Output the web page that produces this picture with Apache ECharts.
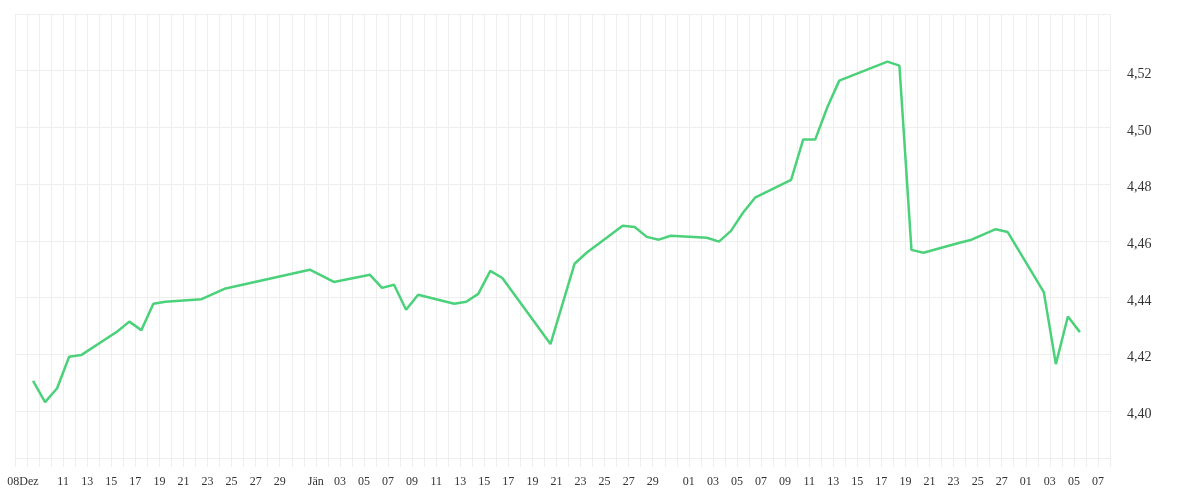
<!DOCTYPE html>
<html>
<head>
<meta charset="utf-8">
<script src="https://cdn.jsdelivr.net/npm/echarts@6/dist/echarts.min.js"></script>
<style>
  html, body { margin: 0; padding: 0; background: #ffffff; }
  #chart { width: 1200px; height: 500px; }
</style>
</head>
<body>
<div id="chart"></div>
<script>
// ---- data ----
var axisStart = '2024-12-07';
var axisDays = 91;
var dates = [
  '2024-12-08','2024-12-09','2024-12-10','2024-12-11','2024-12-12',
  '2024-12-15','2024-12-16','2024-12-17','2024-12-18','2024-12-19',
  '2024-12-22','2024-12-24','2024-12-31',
  '2025-01-02','2025-01-05','2025-01-06','2025-01-07','2025-01-08','2025-01-09',
  '2025-01-12','2025-01-13','2025-01-14','2025-01-15','2025-01-16',
  '2025-01-20','2025-01-22','2025-01-23',
  '2025-01-26','2025-01-27','2025-01-28','2025-01-29','2025-01-30',
  '2025-02-02','2025-02-03','2025-02-04','2025-02-05','2025-02-06',
  '2025-02-09','2025-02-10','2025-02-11','2025-02-12','2025-02-13',
  '2025-02-17','2025-02-18','2025-02-19','2025-02-20',
  '2025-02-23','2025-02-24','2025-02-25','2025-02-26','2025-02-27',
  '2025-03-02','2025-03-03','2025-03-04','2025-03-05'
];
var values = [
  4.4106, 4.4031, 4.4080, 4.4191, 4.4197,
  4.4280, 4.4315, 4.4285, 4.4378, 4.4385,
  4.4394, 4.4432, 4.4498,
  4.4455, 4.4480, 4.4434, 4.4445, 4.4357, 4.4410,
  4.4378, 4.4385, 4.4413, 4.4494, 4.4469,
  4.4236, 4.4519, 4.4558,
  4.4653, 4.4649, 4.4614, 4.4604, 4.4618,
  4.4611, 4.4597, 4.4635, 4.4699, 4.4752,
  4.4815, 4.4957, 4.4957, 4.5070, 4.5165,
  4.5232, 4.5218, 4.4568, 4.4558,
  4.4593, 4.4604, 4.4623, 4.4641, 4.4631,
  4.4419, 4.4165, 4.4333, 4.4278
];
var firstDayLabel = '08';
var firstMonthLabel = 'Dez';
var monthNames = { '2025-01': 'Jän' };
var yMin = 4.3834, yMax = 4.54;

// ---- helpers ----
var DAY = 86400000;
var t0 = Date.parse(axisStart + 'T00:00:00Z');
function dayOffset(d) { return (Date.parse(d + 'T12:00:00Z') - t0) / DAY; }
var seriesData = dates.map(function (d, i) { return [dayOffset(d), values[i]]; });

function pad2(n) { return (n < 10 ? '0' : '') + n; }
function xLabel(v) {
  var k = Math.round(v);
  if (Math.abs(v - k) > 1e-6) return '';
  if (k === 1) return '{lead|' + firstDayLabel + firstMonthLabel + '}';
  if (k < 4) return '';
  var dt = new Date(t0 + k * DAY);
  var day = dt.getUTCDate();
  var key = dt.getUTCFullYear() + '-' + pad2(dt.getUTCMonth() + 1);
  if (day === 1 && monthNames[key]) return monthNames[key];
  if (day % 2 === 1 && day !== 31) return pad2(day);
  return '';
}

var chart = echarts.init(document.getElementById('chart'), null, { renderer: 'canvas' });
chart.setOption({
  animation: false,
  backgroundColor: '#ffffff',
  grid: { left: 15, right: 90, top: 14, bottom: 42, containLabel: false },
  xAxis: {
    type: 'value',
    min: 0,
    max: axisDays,
    interval: 1,
    axisLine: { show: true, lineStyle: { color: '#eeeeee', width: 1 } },
    axisTick: { show: true, length: 9, lineStyle: { color: '#eeeeee' } },
    splitLine: { show: true, lineStyle: { color: '#eeeeee', width: 1 } },
    axisLabel: {
      show: true,
      showMinLabel: true,
      showMaxLabel: true,
      hideOverlap: false,
      margin: 18,
      color: '#333333',
      fontFamily: 'Liberation Serif',
      fontSize: 12,
      formatter: xLabel,
      rich: {
        lead: {
          fontFamily: 'Liberation Serif',
          fontSize: 12,
          color: '#333333',
          padding: [0, 8, 0, 0]
        }
      }
    }
  },
  yAxis: {
    type: 'value',
    position: 'right',
    min: yMin,
    max: yMax,
    splitNumber: 8,
    axisLine: { show: false },
    axisTick: { show: false },
    splitLine: { show: true, lineStyle: { color: '#eeeeee', width: 1 } },
    axisLabel: {
      show: true,
      showMinLabel: false,
      showMaxLabel: false,
      margin: 17,
      color: '#333333',
      fontFamily: 'Liberation Serif',
      fontSize: 14,
      formatter: function (v) { return '{v|' + v.toFixed(2).replace('.', ',') + '}'; },
      rich: {
        v: {
          fontFamily: 'Liberation Serif',
          fontSize: 14,
          color: '#333333',
          padding: [7, 0, 0, 0]
        }
      }
    }
  },
  series: [{
    type: 'line',
    data: seriesData,
    showSymbol: false,
    symbol: 'none',
    lineStyle: { color: '#4cd17b', width: 2.5 },
    itemStyle: { color: '#4cd17b' }
  }]
});
</script>
</body>
</html>
